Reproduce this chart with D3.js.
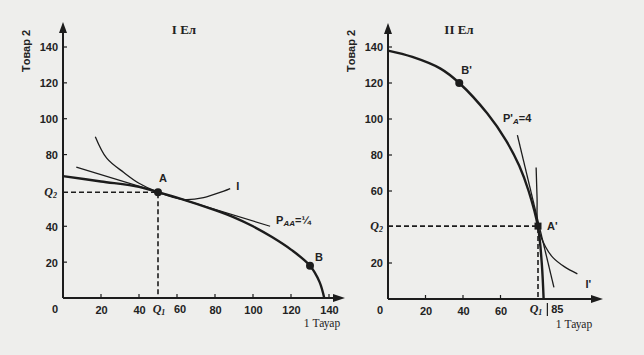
<!DOCTYPE html>
<html><head><meta charset="utf-8">
<script src="https://cdn.jsdelivr.net/npm/d3@7"></script>
<style>
body{margin:0;background:#eeeeec;}
svg{display:block;}
.tick-l{font-family:"Liberation Sans",Arial,sans-serif;font-size:11px;font-weight:bold;fill:#222;}
.ser{font-family:"Liberation Serif","Times New Roman",serif;fill:#222;}
</style></head>
<body>
<script>
// ---- data ----
const yTicksLeft = [20, 40, 80, 100, 120, 140];
const xTicksLeft = [20, 40, 60, 80, 100, 120, 140];
const yTicksRight = [20, 60, 80, 100, 120, 140];
const xTicksRight = [20, 40, 60];

// country I
const ppfLeftX = [0, 20, 40, 50, 60, 80, 90, 100, 110, 120, 130, 135, 137.5];
const ppfLeftY = [68, 65, 62, 59, 56, 49, 45, 40, 34, 27, 18, 9, 0];
const indLeftX = [17, 23, 32, 40, 50, 63, 74, 88];
const indLeftY = [90, 78, 70, 64, 59, 55, 56, 61];
const tanLeftX = [7, 109];
const tanLeftY = [73, 40];
const pointA = [50, 59];
const pointB = [130, 18];

// country II
const ppfRightX = [0, 13, 28, 38, 53, 63, 70, 75, 80, 82, 83];
const ppfRightY = [138, 134.5, 128, 120, 103, 88, 74, 60, 40, 20, 0];
const indRightX = [79, 79.5, 80, 84, 88, 94, 101];
const indRightY = [73, 56, 40, 29, 23, 18, 14];
const tanRightX = [69, 88.5];
const tanRightY = [91, 6.5];
const pointA2 = [80, 40.5];
const pointB2 = [38, 120];

const W = 644, H = 355;
const svg = d3.select("body").append("svg").attr("width", W).attr("height", H);
const ink = "#1c1c1c";

function zip(xs, ys){ return xs.map((x,i)=>[x, ys[i]]); }

function panel(o){
  const x = d3.scaleLinear().domain([0,140]).range(o.xr);
  const y = d3.scaleLinear().domain([0,140]).range(o.yr);
  const g = svg.append("g");
  const x0 = x(0), y0 = y(0);
  g.append("line").attr("x1",x0).attr("x2",x0).attr("y1",y0).attr("y2",o.yTop+6)
    .attr("stroke",ink).attr("stroke-width",2);
  g.append("path").attr("d",`M${x0},${o.yTop} L${x0-4},${o.yTop+11} L${x0+4},${o.yTop+11} Z`).attr("fill",ink);
  g.append("line").attr("x1",x0).attr("x2",o.xEnd-6).attr("y1",y0).attr("y2",y0)
    .attr("stroke",ink).attr("stroke-width",2);
  g.append("path").attr("d",`M${o.xEnd},${y0} L${o.xEnd-12},${y0-4} L${o.xEnd-12},${y0+4} Z`).attr("fill",ink);
  const yAxis = d3.axisLeft(y).tickValues(o.yTicks).tickSize(0).tickPadding(5);
  const ya = g.append("g").attr("transform",`translate(${x0},0)`).call(yAxis);
  ya.select(".domain").remove();
  ya.selectAll("text").attr("class","tick-l").attr("dy","0.35em");
  g.selectAll(".yt").data(o.yTicks).join("line").attr("x1",x0).attr("x2",x0+4)
    .attr("y1",d=>y(d)).attr("y2",d=>y(d)).attr("stroke",ink).attr("stroke-width",1.2);
  const xAxis = d3.axisBottom(x).tickValues(o.xTicks).tickSize(0).tickPadding(8);
  const xa = g.append("g").attr("transform",`translate(0,${y0})`).call(xAxis);
  xa.select(".domain").remove();
  xa.selectAll("text").attr("class","tick-l");
  g.selectAll(".xt").data(o.xTicks).join("line").attr("x1",d=>x(d)).attr("x2",d=>x(d))
    .attr("y1",y0).attr("y2",y0-4).attr("stroke",ink).attr("stroke-width",1.2);
  g.append("text").attr("class","tick-l").attr("x",x0-8).attr("y",y0+15).attr("text-anchor","middle").text("0");
  g.append("text").attr("class","ser").attr("x",o.titleX).attr("y",34).attr("font-size",13)
    .attr("font-weight","bold").attr("text-anchor","middle").text(o.title);
  g.append("text").attr("class","tick-l").attr("transform",`translate(${x0-33},51) rotate(-90)`)
    .attr("text-anchor","middle").attr("font-size",11).text("Тoвар 2");
  g.append("text").attr("class","ser").attr("x",o.nameX).attr("y",y0+29).attr("font-size",11.5)
    .attr("text-anchor","middle").text("1 Тауар");
  return {x, y, g};
}

const line = (x,y,curve)=>d3.line().x(d=>x(d[0])).y(d=>y(d[1])).curve(curve||d3.curveLinear);

// ---------- Panel I ----------
const L = panel({xr:[63,329], yr:[298,47], yTop:22, xEnd:345, yTicks:yTicksLeft, xTicks:xTicksLeft.filter(d=>d!==60),
  title:"I Ел", titleX:184, nameX:322});
{
  const {x,y,g} = L;
  g.append("text").attr("class","tick-l").attr("x",x(60)+3).attr("y",313).attr("text-anchor","middle").text("60");
  g.append("line").attr("x1",x(60)).attr("x2",x(60)).attr("y1",y(0)).attr("y2",y(0)-4).attr("stroke",ink).attr("stroke-width",1.2);
  g.append("path").attr("d",`M${x(0)},${y(pointA[1])} H${x(pointA[0])} V${y(0)}`)
    .attr("fill","none").attr("stroke",ink).attr("stroke-width",1.6).attr("stroke-dasharray","5,3");
  g.append("path").datum(zip(tanLeftX,tanLeftY)).attr("d",line(x,y)).attr("fill","none").attr("stroke",ink).attr("stroke-width",1.2);
  g.append("path").datum(zip(indLeftX,indLeftY)).attr("d",line(x,y,d3.curveCatmullRom)).attr("fill","none").attr("stroke",ink).attr("stroke-width",1.3);
  g.append("path").datum(zip(ppfLeftX,ppfLeftY)).attr("d",line(x,y,d3.curveCatmullRom)).attr("fill","none").attr("stroke",ink).attr("stroke-width",2.4);
  g.selectAll(".pt").data([pointA,pointB]).join("circle").attr("cx",d=>x(d[0])).attr("cy",d=>y(d[1])).attr("r",4).attr("fill",ink);
  const lab = (t,px,py)=>g.append("text").attr("class","tick-l").attr("x",px).attr("y",py).text(t);
  lab("A", x(pointA[0])+1, y(pointA[1])-10);
  lab("B", x(pointB[0])+5, y(pointB[1])-5);
  lab("I", x(indLeftX[indLeftX.length-1])+6, y(indLeftY[indLeftY.length-1])+1);
  const p = g.append("text").attr("class","tick-l").attr("x",x(tanLeftX[1])+6).attr("y",y(tanLeftY[1])-2);
  p.append("tspan").text("P");
  p.append("tspan").attr("font-size",8).attr("font-style","italic").attr("dy",2).text("AA");
  p.append("tspan").attr("dy",-2).text("=¼");
  const q2 = g.append("text").attr("class","ser").attr("x",57).attr("y",y(pointA[1])+4).attr("text-anchor","end")
    .attr("font-style","italic").attr("font-weight","bold").attr("font-size",12);
  q2.append("tspan").text("Q"); q2.append("tspan").attr("font-size",8).attr("dy",2).text("2");
  const q1 = g.append("text").attr("class","ser").attr("x",x(pointA[0])+1).attr("y",313).attr("text-anchor","middle")
    .attr("font-style","italic").attr("font-weight","bold").attr("font-size",12);
  q1.append("tspan").text("Q"); q1.append("tspan").attr("font-size",8).attr("dy",2).text("1");
}

// ---------- Panel II ----------
const R = panel({xr:[388,650.5], yr:[299,47], yTop:23, xEnd:603, yTicks:yTicksRight, xTicks:xTicksRight,
  title:"II Ел", titleX:459, nameX:574});
{
  const {x,y,g} = R;
  g.append("path").attr("d",`M${x(0)},${y(pointA2[1])} H${x(pointA2[0])} V${y(0)}`)
    .attr("fill","none").attr("stroke",ink).attr("stroke-width",1.6).attr("stroke-dasharray","5,3");
  g.append("path").datum(zip(tanRightX,tanRightY)).attr("d",line(x,y)).attr("fill","none").attr("stroke",ink).attr("stroke-width",1.3);
  g.append("path").datum(zip(indRightX,indRightY)).attr("d",line(x,y,d3.curveCatmullRom)).attr("fill","none").attr("stroke",ink).attr("stroke-width",1.3);
  g.append("path").datum(zip(ppfRightX,ppfRightY)).attr("d",line(x,y,d3.curveCatmullRom)).attr("fill","none").attr("stroke",ink).attr("stroke-width",2.4);
  g.append("circle").attr("cx",x(pointB2[0])).attr("cy",y(pointB2[1])).attr("r",4).attr("fill",ink);
  g.append("rect").attr("x",x(pointA2[0])-3.5).attr("y",y(pointA2[1])-3.5).attr("width",7).attr("height",7).attr("fill",ink);
  const lab = (t,px,py)=>g.append("text").attr("class","tick-l").attr("x",px).attr("y",py).text(t);
  lab("B'", x(pointB2[0])+2, y(pointB2[1])-9);
  lab("A'", x(pointA2[0])+9, y(pointA2[1])+4);
  lab("I'", x(indRightX[indRightX.length-1])+8, y(indRightY[indRightY.length-1])+14);
  const p = g.append("text").attr("class","tick-l").attr("x",503).attr("y",122);
  p.append("tspan").text("P'");
  p.append("tspan").attr("font-size",8).attr("font-style","italic").attr("dy",2).text("A");
  p.append("tspan").attr("dy",-2).text("=4");
  const q2 = g.append("text").attr("class","ser").attr("x",383).attr("y",y(pointA2[1])+4).attr("text-anchor","end")
    .attr("font-style","italic").attr("font-weight","bold").attr("font-size",12);
  q2.append("tspan").text("Q"); q2.append("tspan").attr("font-size",8).attr("dy",2).text("2");
  const q1 = g.append("text").attr("class","ser").attr("x",x(pointA2[0])-2).attr("y",313).attr("text-anchor","middle")
    .attr("font-style","italic").attr("font-weight","bold").attr("font-size",12);
  q1.append("tspan").text("Q"); q1.append("tspan").attr("font-size",8).attr("dy",2).text("1");
  g.append("text").attr("class","tick-l").attr("x",x(85)+10).attr("y",313).attr("text-anchor","middle").text("85");
  g.append("line").attr("x1",x(85)).attr("x2",x(85)).attr("y1",y(0)+4).attr("y2",y(0)+17).attr("stroke",ink).attr("stroke-width",1.2);
}
</script>
</body></html>
